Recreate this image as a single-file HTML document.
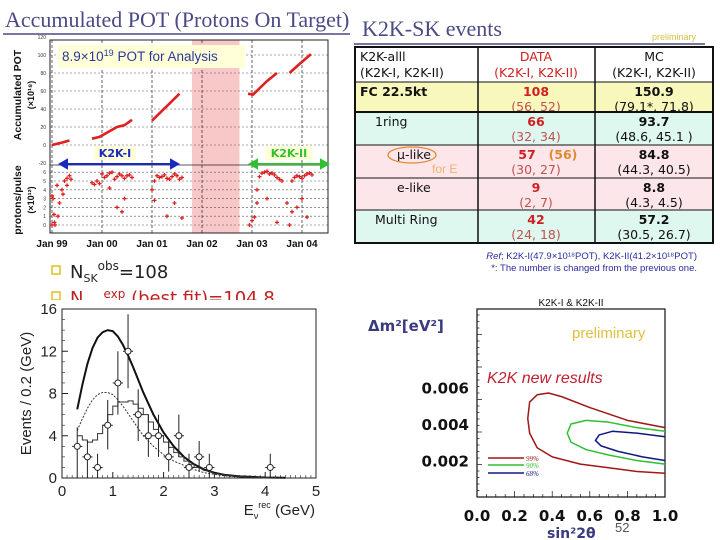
<!DOCTYPE html>
<html><head><meta charset="utf-8"><style>
body{margin:0;background:#fff;width:720px;height:540px;overflow:hidden;font-family:"Liberation Sans",sans-serif}
svg{position:absolute;left:0;top:0}
</style></head><body>
<svg id="s" width="720" height="540" viewBox="0 0 720 540" xmlns="http://www.w3.org/2000/svg">
<text x="5" y="27" font-family="Liberation Serif" font-size="22" fill="#4a4a86">Accumulated POT (Protons On Target)</text>
<line x1="3" y1="34" x2="350" y2="34" stroke="#4a4a86" stroke-width="1.5"/>
<rect x="352" y="10" width="8" height="30" fill="#fff"/>
<text x="362" y="36" font-family="Liberation Serif" font-size="22" fill="#4a4a86">K2K-SK events</text>
<line x1="354" y1="44" x2="705" y2="44" stroke="#4a4a86" stroke-width="1.5"/>
<text x="652" y="40" font-size="9" fill="#d8c040">preliminary</text>
<g id="pot"></g>
<g id="tbl"></g>
<text x="697" y="259" font-size="9.5" fill="#2a2aa0" text-anchor="end"><tspan font-style="italic">Ref</tspan>; K2K-I(47.9×10¹⁸POT), K2K-II(41.2×10¹⁸POT)</text>
<text x="697" y="271" font-size="9.5" fill="#2a2aa0" text-anchor="end">*: The number is changed from the previous one.</text>
<rect x="52" y="266" width="8" height="8" fill="none" stroke="#e0c020" stroke-width="1.5"/>
<text x="70" y="278" font-size="18" font-family="DejaVu Sans" fill="#222">N<tspan font-size="11" dy="4">SK</tspan><tspan font-size="12" dy="-12">obs</tspan><tspan dy="8">=108</tspan></text>
<rect x="52" y="292" width="8" height="8" fill="none" stroke="#e0c020" stroke-width="1.5"/>
<text x="70" y="304" font-size="18" font-family="DejaVu Sans" fill="#c02020">N<tspan font-size="12" dx="20" dy="-6">exp</tspan><tspan dy="6"> (best fit)=104.8</tspan></text>
<rect x="40" y="300" width="300" height="8" fill="#fff"/>
<g id="spec"></g>
<g id="cont"></g>
<text x="615" y="532" font-size="13" fill="#555">52</text>
</svg>
<script>
const NS='http://www.w3.org/2000/svg';
function mk(p,t,a,txt){const e=document.createElementNS(NS,t);for(const k in a)e.setAttribute(k,a[k]);if(txt!==undefined)e.textContent=txt;p.appendChild(e);return e;}

const potYears=['Jan 99','Jan 00','Jan 01','Jan 02','Jan 03','Jan 04'];
const potYTicks=[120,100,80,60,40,20,0,-20];
const ppYTicks=[6,5,4,3,2,1,0];
const potSeg1=[[1999.0,0],[1999.15,2],[1999.35,5]];
const potSeg2=[[1999.8,7],[1999.95,9],[2000.3,20],[2000.45,22],[2000.6,28]];
const potSeg3=[[2001.0,27],[2001.2,38],[2001.35,46],[2001.55,57]];
const potSeg4=[[2002.92,57],[2003.02,56],[2003.3,71],[2003.5,80]];
const potSeg5=[[2003.75,80],[2003.95,90],[2004.18,101]];
const ppTimes=[1999.0,1999.02,1999.04,1999.06,1999.1,1999.15,1999.2,1999.25,1999.3,1999.35,1999.38,1999.0,1999.05,1999.12,1999.22,1999.3,
1999.8,1999.85,1999.9,1999.95,2000.0,2000.05,2000.1,2000.15,2000.2,2000.25,2000.3,2000.35,2000.4,2000.45,2000.5,2000.55,2000.6,2000.15,2000.3,2000.4,2000.45,
2001.0,2001.05,2001.1,2001.15,2001.2,2001.25,2001.3,2001.35,2001.4,2001.45,2001.5,2001.55,2001.6,2001.05,2001.3,2001.45,2001.6,
2002.95,2003.0,2003.05,2003.1,2003.15,2003.2,2003.25,2003.3,2003.35,2003.4,2003.45,2003.5,2003.55,2003.6,2003.1,2003.3,2003.5,2003.7,
2003.75,2003.8,2003.85,2003.9,2003.95,2004.0,2004.05,2004.1,2004.15,2004.2,2003.8,2003.9,2004.0,2004.1];
const ppValues=[3.3,3.0,1.2,0.0,4.5,2.5,4.0,5.0,5.3,5.6,5.2,0.0,0.3,1.0,3.5,4.5,
4.8,4.6,5.0,4.7,5.8,5.4,5.6,5.9,6.0,5.2,5.5,5.8,5.6,5.3,5.6,5.7,5.4,4.2,2.0,1.5,3.0,
4.0,5.0,5.6,5.4,5.5,5.7,5.3,5.2,5.5,5.8,5.6,5.2,5.4,2.8,1.0,2.5,0.8,
0.0,0.5,0.9,4.0,5.5,5.9,6.0,6.1,5.8,5.9,5.7,5.4,5.2,5.0,2.5,3.0,0.3,2.5,
0.0,5.0,5.4,5.6,5.5,5.3,5.6,5.8,5.9,5.7,1.5,2.0,3.0,0.9];

(function(){
const g=document.getElementById('pot');
const X0=50,X1=328,T0=40,MID=165,B1=233;
const xs=t=>52+(t-1999)*50;
const yt=v=>145-v*0.9;
const yb=v=>225-v*8.8;
const band=mk(g,'rect',{x:xs(2001.8),y:T0,width:xs(2002.75)-xs(2001.8),height:B1-T0,fill:'#f8c8c8'});


potYTicks.forEach(v=>{const y=yt(v);if(v<120&&v>-20)mk(g,'line',{x1:X0,x2:X1,y1:y,y2:y,stroke:'#555','stroke-width':0.6,'stroke-dasharray':'2,2'});
 const t=mk(g,'text',{x:46,y:y+2,'font-size':5,fill:'#333','text-anchor':'end'},String(v));});
ppYTicks.forEach(v=>{const y=yb(v);mk(g,'line',{x1:X0,x2:X1,y1:y,y2:y,stroke:'#555','stroke-width':0.6,'stroke-dasharray':'2,2'});
 const t=mk(g,'text',{x:46,y:y+2,'font-size':5,fill:'#333','text-anchor':'end'},String(v));});
potYears.forEach((lab,i)=>{const x=xs(1999+i);mk(g,'line',{x1:x,x2:x,y1:T0,y2:B1,stroke:'#222','stroke-width':0.7,'stroke-dasharray':'3,2'});
 const t=mk(g,'text',{x:x,y:247,'font-size':10,'font-weight':'bold',fill:'#111','text-anchor':'middle'},lab);});
mk(g,'rect',{x:X0,y:T0,width:X1-X0,height:B1-T0,fill:'none',stroke:'#222','stroke-width':1});
mk(g,'line',{x1:X0,x2:X1,y1:MID,y2:MID,stroke:'#222','stroke-width':0.8});
[potSeg1,potSeg2,potSeg3,potSeg4,potSeg5].forEach((seg,i)=>{
 const p=mk(g,'polyline',{points:seg.map(d=>xs(d[0])+','+yt(d[1])).join(' '),fill:'none',stroke:'#e02020','stroke-width':2.6});
 });
ppTimes.forEach((t,i)=>{const x=xs(t),y=yb(ppValues[i]);
 const p=mk(g,'path',{d:`M${x-2},${y}h4M${x},${y-2}v4`,stroke:'#e02020','stroke-width':1.3});
 });
const lb=mk(g,'rect',{x:58,y:45,width:187,height:23,fill:'#ffffd8'});
const lt=mk(g,'text',{x:62,y:61,'font-size':13.5,fill:'#2a3a9a'},'');
lt.innerHTML='8.9×10<tspan font-size="9" dy="-5">19</tspan><tspan dy="5"> POT for Analysis</tspan>';
const a1=mk(g,'path',{d:'M60,164H176M60,164l7,-4v8zM178,164l-7,-4v8z',stroke:'#1a2ac0','stroke-width':2,fill:'#1a2ac0'});
mk(g,'rect',{x:94,y:146,width:42,height:14,fill:'#ffffd8'});
const t1=mk(g,'text',{x:115,y:157,'font-size':11,'font-weight':'bold',fill:'#1a2ac0','text-anchor':'middle','font-family':'DejaVu Sans'},'K2K-I');
const a2=mk(g,'path',{d:'M250,164H327M250,164l7,-4v8zM328,164l-7,-4v8z',stroke:'#30c030','stroke-width':2,fill:'#30c030'});
mk(g,'rect',{x:265,y:146,width:48,height:14,fill:'#ffffd8'});
const t2=mk(g,'text',{x:289,y:157,'font-size':11,'font-weight':'bold',fill:'#30c030','text-anchor':'middle','font-family':'DejaVu Sans'},'K2K-II');
const y1=mk(g,'text',{transform:'translate(21,95) rotate(-90)','font-size':10.5,'font-weight':'bold',fill:'#111','text-anchor':'middle'},'Accumulated POT');
const y1b=mk(g,'text',{transform:'translate(34,95) rotate(-90)','font-size':9,'font-weight':'bold',fill:'#111','text-anchor':'middle'},'(×10¹⁸)');
const y2=mk(g,'text',{transform:'translate(21,200) rotate(-90)','font-size':10.5,'font-weight':'bold',fill:'#111','text-anchor':'middle'},'protons/pulse');
const y2b=mk(g,'text',{transform:'translate(34,200) rotate(-90)','font-size':9,'font-weight':'bold',fill:'#111','text-anchor':'middle'},'(×10¹²)');
})();

(function(){
const g=document.getElementById('tbl');
const cols=[355,478,595,713];
const F='DejaVu Sans';
const rows=[{y:47,h:35,bg:'#ffffff'},{y:82,h:30,bg:'#f8f8bc'},{y:112,h:33,bg:'#def8f0'},{y:145,h:33,bg:'#fde6ea'},{y:178,h:32,bg:'#fde6ea'},{y:210,h:33,bg:'#def8f0'}];
const c1=['K2K-alll\n(K2K-I, K2K-II)','FC 22.5kt','1ring','μ-like','e-like','Multi Ring'];
const c1x=[360,360,375,397,397,375];
const c2a=['DATA','108','66','57','9','42'];
const c2b=['(K2K-I, K2K-II)','(56, 52)','(32, 34)','(30, 27)','(2, 7)','(24, 18)'];
const c3a=['MC','150.9','93.7','84.8','8.8','57.2'];
const c3b=['(K2K-I, K2K-II)','(79.1*, 71.8)','(48.6, 45.1 )','(44.3, 40.5)','(4.3, 4.5)','(30.5, 26.7)'];
rows.forEach((r,i)=>{
 const rr=mk(g,'rect',{x:cols[0],y:r.y,width:cols[3]-cols[0],height:r.h,fill:r.bg});
 const f=12.5;
 if(i===0){
  mk(g,'text',{x:360,y:r.y+14,'font-size':f,fill:'#111','font-family':F},'K2K-alll');
  mk(g,'text',{x:360,y:r.y+30,'font-size':f,fill:'#111','font-family':F},'(K2K-I, K2K-II)');
  mk(g,'text',{x:536,y:r.y+14,'font-size':f,fill:'#d02020','text-anchor':'middle','font-family':F},c2a[0]);
  mk(g,'text',{x:536,y:r.y+30,'font-size':f,fill:'#d02020','text-anchor':'middle','font-family':F},c2b[0]);
  mk(g,'text',{x:654,y:r.y+14,'font-size':f,fill:'#111','text-anchor':'middle','font-family':F},c3a[0]);
  mk(g,'text',{x:654,y:r.y+30,'font-size':f,fill:'#111','text-anchor':'middle','font-family':F},c3b[0]);
 } else {
  const t=mk(g,'text',{x:c1x[i],y:r.y+14,'font-size':f,'font-weight':i===1?'bold':'normal',fill:'#111','font-family':F},c1[i]);
  mk(g,'text',{x:i===3?527:536,y:r.y+14,'font-size':f,'font-weight':'bold',fill:'#d02020','text-anchor':'middle','font-family':F},c2a[i]);
  mk(g,'text',{x:536,y:r.y+29,'font-size':f,fill:'#c05050','text-anchor':'middle','font-family':F},c2b[i]);
  mk(g,'text',{x:654,y:r.y+14,'font-size':f,'font-weight':'bold',fill:'#111','text-anchor':'middle','font-family':F},c3a[i]);
  mk(g,'text',{x:654,y:r.y+29,'font-size':f,fill:'#111','text-anchor':'middle','font-family':F},c3b[i]);
 }
});
mk(g,'text',{x:563,y:159,'font-size':12.5,'font-weight':'bold',fill:'#e08a30','text-anchor':'middle','font-family':F},'(56)');
mk(g,'ellipse',{cx:412,cy:155,rx:24,ry:8,fill:'none',stroke:'#e08a30','stroke-width':1.2});
mk(g,'text',{x:432,y:173,'font-size':12,fill:'#f0b070'},'for E');
mk(g,'rect',{x:cols[0],y:47,width:cols[3]-cols[0],height:196,fill:'none',stroke:'#111','stroke-width':2});
[cols[1],cols[2]].forEach(x=>mk(g,'line',{x1:x,x2:x,y1:47,y2:243,stroke:'#111','stroke-width':1.5}));
[82,112,145,178,210].forEach(y=>mk(g,'line',{x1:cols[0],x2:cols[3],y1:y,y2:y,stroke:'#111','stroke-width':y===112?2:1}));
})();

const specX=[0.3,0.5,0.7,0.9,1.1,1.3,1.5,1.7,1.9,2.1,2.3,2.5,2.7,2.9,4.1];
const specY=[3,2,1,5,9,12,6,4,4,2,4,1,2,1,1];
const specErrLo=[3,2,1,2.3,3,3.5,2.5,2,2,1.4,2,1,1.4,1,1];
const specErrHi=[1.8,1.5,1.3,2.4,3,3.5,2.4,2,2,1.7,2,1.3,1.5,1.3,1.3];
const noOscE=[0.3,0.4,0.5,0.6,0.7,0.8,0.9,1.0,1.1,1.2,1.3,1.4,1.5,1.6,1.8,2.0,2.2,2.4,2.6,2.8,3.0,3.2,3.5,4.0,4.4];
const noOscN=[6.5,8.8,10.8,12.3,13.3,13.8,14.0,13.9,13.4,12.6,11.6,10.5,9.3,8.1,6.0,4.3,3.0,2.0,1.3,0.8,0.5,0.3,0.15,0.05,0.02];
const fitE=[0.3,0.4,0.5,0.6,0.7,0.8,0.9,1.0,1.1,1.2,1.3,1.4,1.5,1.6,1.7,1.8,1.9,2.0,2.2,2.4,2.6,2.8,3.0,3.2,3.5,4.0,4.4];
const fitN=[4.5,5.6,6.6,7.4,7.9,8.1,8.1,7.9,7.4,6.8,6.1,5.4,4.7,4.0,3.5,3.0,2.6,2.2,1.6,1.2,0.8,0.5,0.35,0.2,0.1,0.04,0.02];
const histE=[0.3,0.4,0.5,0.6,0.7,0.8,0.9,1.0,1.1,1.2,1.3,1.4,1.5,1.6,1.7,1.8,1.9,2.0,2.1,2.2,2.3,2.4,2.5,2.6,2.8,3.0,3.3,3.6,4.0];
const histN=[4.0,3.6,3.4,3.6,4.2,5.0,6.0,6.8,7.2,7.2,7.3,7.0,6.6,6.0,5.3,4.6,4.0,3.4,2.9,2.4,2.0,1.6,1.3,1.0,0.7,0.4,0.2,0.1,0.03];
const specXTicks=[0,1,2,3,4,5];
const specYTicks=[0,4,8,12,16];
(function(){
const g=document.getElementById('spec');
const L=62,R=316,T=309,B=478;
const xs=v=>L+v*(R-L)/5, ys=v=>B-v*(B-T)/16;
mk(g,'rect',{x:L,y:T,width:R-L,height:B-T,fill:'none',stroke:'#222','stroke-width':1});
specXTicks.forEach(v=>{const t=mk(g,'text',{x:xs(v),y:496,'font-size':15,fill:'#222','text-anchor':'middle'},String(v));
 mk(g,'line',{x1:xs(v),x2:xs(v),y1:B,y2:B-6,stroke:'#222'});});
for(let v=0;v<=5;v+=0.1)mk(g,'line',{x1:xs(v),x2:xs(v),y1:B,y2:B-3,stroke:'#222','stroke-width':0.6});
specYTicks.forEach(v=>{const t=mk(g,'text',{x:L-5,y:ys(v)+5,'font-size':15,fill:'#222','text-anchor':'end'},String(v));
 mk(g,'line',{x1:L,x2:L+6,y1:ys(v),y2:ys(v),stroke:'#222'});});
for(let v=0;v<=16;v+=1)mk(g,'line',{x1:L,x2:L+3,y1:ys(v),y2:ys(v),stroke:'#222','stroke-width':0.6});
const yt=mk(g,'text',{transform:`translate(31,${(T+B)/2}) rotate(-90)`,'font-size':15,fill:'#222','text-anchor':'middle'},'Events / 0.2 (GeV)');
const xt=mk(g,'text',{x:315,y:515,'font-size':15,fill:'#222','text-anchor':'end'},'');
xt.innerHTML='E<tspan font-size="9" dy="4">ν</tspan><tspan font-size="9" dy="-11">rec</tspan><tspan dy="7"> (GeV)</tspan>';
const c1=mk(g,'polyline',{points:noOscE.map((e,i)=>xs(e)+','+ys(noOscN[i])).join(' '),fill:'none',stroke:'#111','stroke-width':2});

const c2=mk(g,'polyline',{points:fitE.map((e,i)=>xs(e)+','+ys(fitN[i])).join(' '),fill:'none',stroke:'#333','stroke-width':1,'stroke-dasharray':'2,1.5'});

let d='';histE.forEach((e,i)=>{const x0=xs(e),x1=xs(e+0.1),y=ys(histN[i]);d+=(i?'L':'M')+x0+','+y+'H'+x1;});
const h=mk(g,'path',{d:d,fill:'none',stroke:'#333','stroke-width':1});
specX.forEach((e,i)=>{const x=xs(e),y=ys(specY[i]);
 const b=mk(g,'path',{d:`M${x},${ys(specY[i]-specErrLo[i])}V${ys(specY[i]+specErrHi[i])}M${xs(e-0.1)},${y}H${xs(e+0.1)}`,stroke:'#222','stroke-width':1});
 
 const c=mk(g,'circle',{cx:x,cy:y,r:3,fill:'#fff',stroke:'#222','stroke-width':1});
 });
})();

const c99S=[1.0,0.8,0.6,0.45,0.38,0.32,0.28,0.27,0.28,0.32,0.4,0.55,0.7,0.85,1.0];
const c99D=[0.0038,0.0042,0.0049,0.0055,0.0057,0.0056,0.0052,0.0043,0.0035,0.0027,0.0022,0.0018,0.0016,0.0014,0.0013];
const c90S=[1.0,0.85,0.7,0.58,0.5,0.48,0.5,0.58,0.7,0.85,1.0];
const c90D=[0.0036,0.0038,0.0041,0.0042,0.0040,0.0035,0.0030,0.0026,0.0023,0.0020,0.0018];
const c68S=[1.0,0.85,0.72,0.65,0.63,0.66,0.75,0.88,1.0];
const c68D=[0.0033,0.0035,0.0036,0.0034,0.0031,0.0028,0.0025,0.0022,0.0020];
const contXTicks=['0.0','0.2','0.4','0.6','0.8','1.0'];
const contYTicks=[0.002,0.004,0.006];
(function(){
const g=document.getElementById('cont');
const L=477,R=665,T=309,B=497;
const xs=v=>L+v*(R-L), ys=v=>B-v/0.002*36.5;
mk(g,'rect',{x:L,y:T,width:R-L,height:B-T,fill:'none',stroke:'#111','stroke-width':1.2});
for(let v=0;v<=1.001;v+=0.05)mk(g,'line',{x1:xs(v),x2:xs(v),y1:B,y2:B-(Math.round(v*20)%4==0?6:3),stroke:'#111','stroke-width':0.7});
for(let i=0;i<=28;i++){const y=B-i*6.5;if(y>T)mk(g,'line',{x1:L,x2:L+(i%5==0?5:2.5),y1:y,y2:y,stroke:'#111','stroke-width':0.7});}
contXTicks.forEach((s,i)=>{const t=mk(g,'text',{x:xs(i*0.2),y:521,'font-size':15,'font-weight':'bold',fill:'#111','text-anchor':'middle','font-family':'DejaVu Sans'},s);});
contYTicks.forEach(v=>{const t=mk(g,'text',{x:469,y:ys(v)+6,'font-size':15,'font-weight':'bold',fill:'#111','text-anchor':'end','font-family':'DejaVu Sans'},v.toFixed(3));});
const tt=mk(g,'text',{x:571,y:306,'font-size':10,fill:'#111','text-anchor':'middle'},'K2K-I & K2K-II');
const yl=mk(g,'text',{x:368,y:331,'font-size':15,'font-weight':'bold',fill:'#3a3a80','font-family':'DejaVu Sans'},'Δm²[eV²]');
const xl=mk(g,'text',{x:547,y:538,'font-size':14,'font-weight':'bold',fill:'#3a3a80','font-family':'DejaVu Sans'},'sin²2θ');
const pr=mk(g,'text',{x:572,y:338,'font-size':15,fill:'#e0c040'},'preliminary');
const nr=mk(g,'text',{x:487,y:383,'font-size':16,'font-style':'italic',fill:'#c02030'},'K2K new results');
[[c99S,c99D,'#a01818','contour-99'],[c90S,c90D,'#30c030','contour-90'],[c68S,c68D,'#101880','contour-68']].forEach(([S,D,col,nm])=>{
 const p=mk(g,'polyline',{points:S.map((s,i)=>xs(s)+','+ys(D[i])).join(' '),fill:'none',stroke:col,'stroke-width':1.5,'stroke-linejoin':'round'});
 });
[['99%','#a01818',461],['90%','#30c030',468],['68%','#101880',476]].forEach(([l,c,y])=>{
 const ln=mk(g,'line',{x1:488,x2:524,y1:y-3,y2:y-3,stroke:c,'stroke-width':1.5});
 const t=mk(g,'text',{x:526,y:y,'font-size':7,'font-style':'italic',fill:c,'font-family':'Liberation Serif'},l);});
})();
</script>
</body></html>
